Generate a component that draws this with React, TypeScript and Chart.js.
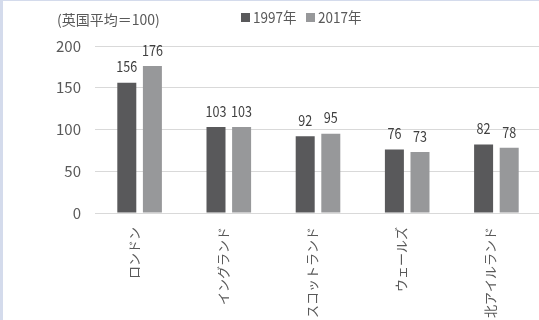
import React, { useEffect, useRef } from "react";
import { Chart, registerables } from "chart.js";

Chart.register(...registerables);

const categories = ["ロンドン", "イングランド", "スコットランド", "ウェールズ", "北アイルランド"];
const seriesNames = ["1997年", "2017年"];
const values1997 = [156, 103, 92, 76, 82];
const values2017 = [176, 103, 95, 73, 78];
const yTicks = [0, 50, 100, 150, 200];
const unitLabel = "(英国平均＝100)";

const FONT = "'Liberation Sans Narrow', 'Noto Sans CJK JP', sans-serif";
const colors = ["#59595b", "#97989a"];
const textColor = "#595959";

export default function App() {
  const ref = useRef<HTMLCanvasElement | null>(null);

  useEffect(() => {
    document.documentElement.style.overflow = "hidden";
    document.body.style.margin = "0";
    document.body.style.overflow = "hidden";
    const canvas = ref.current;
    if (!canvas) return;

    const overlay = {
      id: "overlay",
      afterDatasetsDraw(chart: any) {
        const ctx = chart.ctx;
        ctx.save();
        // data labels (condensed look)
        ctx.font = `15px ${FONT}`;
        ctx.fillStyle = "#404040";
        ctx.textAlign = "center";
        ctx.textBaseline = "middle";
        chart.data.datasets.forEach((ds: any, di: number) => {
          const meta = chart.getDatasetMeta(di);
          meta.data.forEach((el: any, i: number) => {
            ctx.save();
            ctx.translate(el.x, el.y - 16);
            ctx.scale(0.84, 1);
            ctx.fillText(String(ds.data[i]), 0, 0);
            ctx.restore();
          });
        });
        // unit label
        ctx.textAlign = "left";
        ctx.font = `14px ${FONT}`;
        ctx.fillStyle = textColor;
        ctx.fillText(unitLabel, 54, 18.5);
        // legend
        const legendX = [238, 303];
        chart.data.datasets.forEach((ds: any, di: number) => {
          const x = legendX[di];
          ctx.fillStyle = ds.backgroundColor;
          ctx.fillRect(x, 12, 9, 9);
          ctx.fillStyle = textColor;
          ctx.font = `15px ${FONT}`;
          ctx.save();
          ctx.translate(x + 12, 16.5);
          ctx.scale(0.9, 1);
          ctx.fillText(ds.label, 0, 0);
          ctx.restore();
        });
        ctx.restore();
      },
    };

    const chart = new Chart(canvas, {
      type: "bar",
      data: {
        labels: categories,
        datasets: [
          { label: seriesNames[0], data: values1997, backgroundColor: colors[0] },
          { label: seriesNames[1], data: values2017, backgroundColor: colors[1] },
        ],
      },
      options: {
        animation: false,
        responsive: false,
        events: [],
        layout: { padding: { top: 45, left: 0, right: 7, bottom: 0 } },
        datasets: {
          bar: { categoryPercentage: 0.574, barPercentage: 0.742 },
        },
        plugins: {
          legend: { display: false },
          title: { display: false },
          tooltip: { enabled: false },
        },
        scales: {
          x: {
            grid: { display: false, drawTicks: false },
            border: { display: false },
            ticks: {
              autoSkip: false,
              minRotation: 90,
              maxRotation: 90,
              padding: 14,
              labelOffset: -6,
              color: textColor,
              font: { family: FONT, size: 13 },
            },
            afterFit: (s: any) => {
              s.height = 128;
            },
          },
          y: {
            min: 0,
            max: 200,
            grid: { color: "#d9d9d9", drawTicks: false, lineWidth: 1 },
            border: { display: false },
            ticks: {
              padding: 14,
              color: textColor,
              font: { family: FONT, size: 15 },
            },
            afterBuildTicks: (s: any) => {
              s.ticks = yTicks.map((v) => ({ value: v }));
            },
            afterFit: (s: any) => {
              s.width = 92;
            },
          },
        },
      },
      plugins: [overlay],
    });
    return () => chart.destroy();
  }, []);

  return (
    <div
      style={{
        position: "absolute",
        left: 0,
        top: 0,
        width: 539,
        height: 320,
        overflow: "hidden",
        background: "#d4dbec",
      }}
    >
      <div
        style={{
          position: "absolute",
          left: 3,
          top: 1,
          width: 545,
          height: 340,
          background: "#ffffff",
        }}
      >
        <canvas ref={ref} width={545} height={340} style={{ display: "block", width: 545, height: 340 }} />
      </div>
    </div>
  );
}
